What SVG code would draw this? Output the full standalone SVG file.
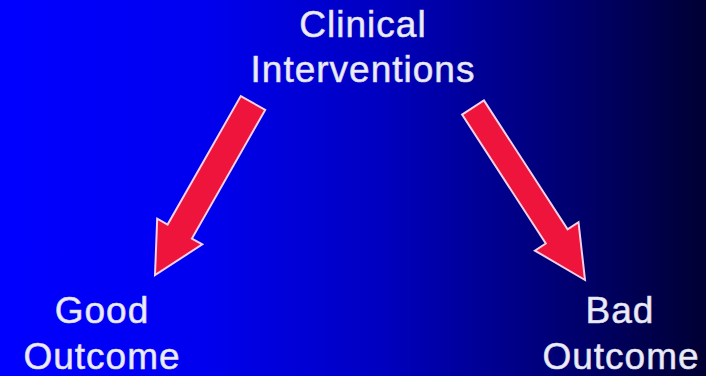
<svg xmlns="http://www.w3.org/2000/svg" width="706" height="376" viewBox="0 0 706 376">
<defs>
<linearGradient id="bg" x1="0" y1="0" x2="1" y2="0">
<stop offset="0" stop-color="#0000ff"/>
<stop offset="0.28" stop-color="#0000f0"/>
<stop offset="0.54" stop-color="#0000c0"/>
<stop offset="0.79" stop-color="#000075"/>
<stop offset="1" stop-color="#000033"/>
</linearGradient>
<style>
.lbl{font-family:"Liberation Sans",Arial,sans-serif;font-size:37px;letter-spacing:1px;fill:#ececf4;stroke:#d8d8ec;stroke-width:0.6;text-anchor:middle;}
.arr{fill:#ee143c;stroke:#f4d0e4;stroke-width:2;stroke-linejoin:miter;}
</style>
</defs>
<rect x="0" y="0" width="706" height="376" fill="url(#bg)"/>
<g id="clinical-interventions">
<text class="lbl" x="363" y="37">Clinical</text>
<text class="lbl" x="363" y="82">Interventions</text>
</g>
<g id="good-outcome">
<text class="lbl" x="102" y="323">Good</text>
<text class="lbl" x="102" y="369">Outcome</text>
</g>
<g id="bad-outcome">
<text class="lbl" x="620" y="323">Bad</text>
<text class="lbl" x="621" y="369">Outcome</text>
</g>
<g id="connectors">
<polygon class="arr" points="240.8,96.1 265.2,109.9 191.9,238.5 202.3,244.4 155,275 157.2,218.7 167.6,224.6"/>
<polygon class="arr" points="483.9,100.4 567.6,229.3 578.5,222.2 585,280 534.9,250.6 545.8,243.5 462.1,114.6"/>
</g>
</svg>
